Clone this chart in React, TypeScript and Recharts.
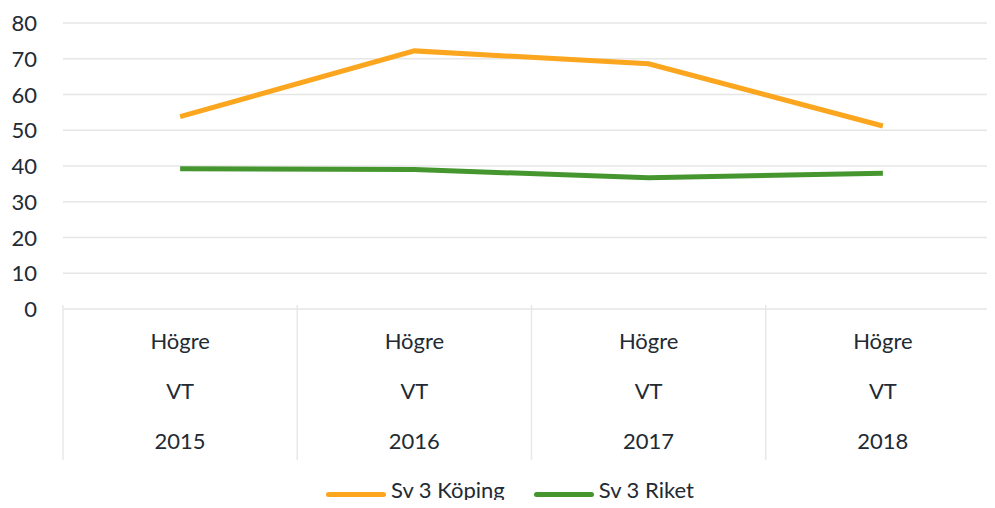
import React from 'react';
import {
  LineChart, Line, XAxis, YAxis, CartesianGrid, Legend,
} from 'recharts';

const categories = ['Högre\nVT\n2015', 'Högre\nVT\n2016', 'Högre\nVT\n2017', 'Högre\nVT\n2018'];
const koping = [53.8, 72.2, 68.6, 51.2];
const riket = [39.2, 39.0, 36.7, 38.0];
const yTicks = [0, 10, 20, 30, 40, 50, 60, 70, 80];

const ORANGE = '#FBA61E';
const GREEN = '#45962F';
const TEXT = '#222a33';
const FONT = 'Lato, "Noto Sans", sans-serif';
const BAND = 234.25;

const data = categories.map((c, i) => ({ cat: c, koping: koping[i], riket: riket[i] }));

const XTick = ({ x, y, payload, index }: any) => {
  const lines = String(payload.value).split('\n');
  const left = x - BAND / 2;
  return (
    <g>
      <line x1={left} y1={y - 12} x2={left} y2={y + 143} stroke="#e8e8e8" strokeWidth={1.5} />
      {index === categories.length - 1 && (
        <line x1={left + BAND} y1={y - 12} x2={left + BAND} y2={y + 143} stroke="#e8e8e8" strokeWidth={1.5} />
      )}
      {lines.map((l, i) => (
        <text key={i} x={x} y={y + 32 + i * 50} textAnchor="middle" fill={TEXT} fontSize={22} fontFamily={FONT}>
          {l}
        </text>
      ))}
    </g>
  );
};

const YTick = ({ x, y, payload }: any) => (
  <text x={x - 8} y={y + 8} textAnchor="end" fill={TEXT} fontSize={22} fontFamily={FONT}>
    {payload.value}
  </text>
);

const swatch = (color: string) => ({
  display: 'inline-block', width: 60, height: 5, background: color, borderRadius: 3, marginRight: 5, position: 'relative' as const, top: 4,
});

const LegendContent = () => (
  <div style={{ display: 'flex', alignItems: 'center', fontFamily: FONT, fontSize: 22, color: TEXT, whiteSpace: 'nowrap', lineHeight: '24px' }}>
    <span style={swatch(ORANGE)} />
    <span style={{ marginRight: 29 }}>Sv 3 Köping</span>
    <span style={swatch(GREEN)} />
    <span>Sv 3 Riket</span>
  </div>
);

export default function App() {
  return (
    <div style={{ margin: -8, width: 995, height: 508, overflow: 'hidden', position: 'relative', background: '#fff' }}>
      <LineChart width={1000} height={508} data={data} margin={{ top: 23, right: 0, bottom: 0, left: 0 }}>
        <CartesianGrid vertical={false} stroke="#e6e6e6" strokeWidth={1.5} />
        <XAxis
          dataKey="cat"
          scale="band"
          axisLine={false}
          tickLine={false}
          height={199}
          interval={0}
          tick={<XTick />}
        />
        <YAxis
          domain={[0, 80]}
          ticks={yTicks}
          width={63}
          axisLine={false}
          tickLine={false}
          tickSize={0}
          tickMargin={18}
          tick={<YTick />}
        />
        <Legend
          layout="horizontal"
          verticalAlign="middle"
          align="center"
          wrapperStyle={{ top: 478, left: 326, width: 'auto' }}
          content={<LegendContent />}
        />
        <Line dataKey="koping" name="Sv 3 Köping" stroke={ORANGE} strokeWidth={5} dot={false} isAnimationActive={false} />
        <Line dataKey="riket" name="Sv 3 Riket" stroke={GREEN} strokeWidth={5} dot={false} isAnimationActive={false} />
      </LineChart>
    </div>
  );
}
